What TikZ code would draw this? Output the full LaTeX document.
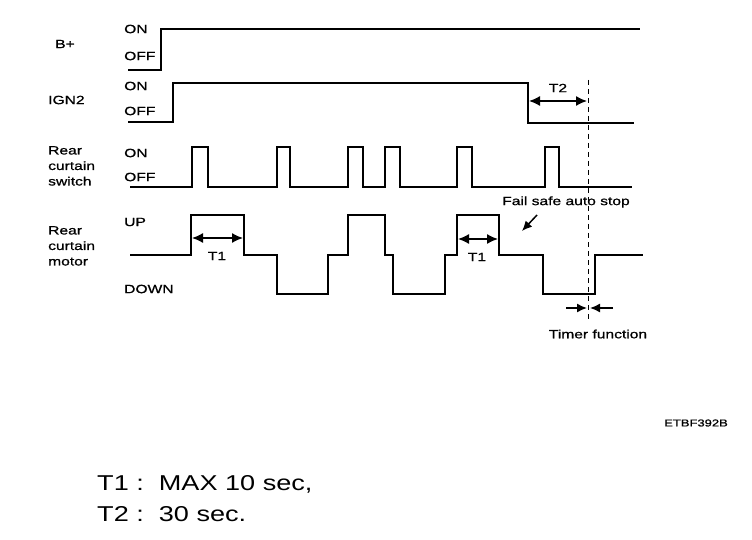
\documentclass[tikz,border=0pt]{standalone}
\usepackage{fontspec}
\setmainfont{Liberation Sans}[FakeStretch=1.26]
\newfontfamily\lblfont{Liberation Sans}[FakeStretch=1.3,FakeBold=0.9]
\usetikzlibrary{arrows.meta}
\begin{document}
\begin{tikzpicture}[x=1pt,y=-1pt,
  sig/.style={line width=2pt,line join=miter},
  lbl/.style={font=\lblfont\fontsize{12}{14}\selectfont,inner sep=0pt,anchor=west},
  stack/.style={lbl,align=left,anchor=north west,font=\lblfont\fontsize{12}{15.5}\selectfont},
  dim/.style={line width=1.5pt,{Latex[length=11pt,width=10pt]}-{Latex[length=11pt,width=10pt]}},
  onearrow/.style={line width=1.5pt,-{Latex[length=10pt,width=9pt]}},
  note/.style={font=\fontsize{21.5}{26}\selectfont,inner sep=0pt,anchor=west}]
\useasboundingbox (0,0) rectangle (752,540);
% left labels
\node[lbl] (bp) at (55,44) {B+};
\node[lbl] (ign) at (48,100) {IGN2};
\node[stack] (rcs) at (48,146) {Rear\\curtain\\switch};
\node[stack] (rcm) at (48,226) {Rear\\curtain\\motor};
% level labels
\node[lbl] (on1) at (124,29) {ON};
\node[lbl] (off1) at (124,56) {OFF};
\node[lbl] (on2) at (124,86) {ON};
\node[lbl] (off2) at (124,111) {OFF};
\node[lbl] (on3) at (124,153) {ON};
\node[lbl] (off3) at (124,177) {OFF};
\node[lbl] (up) at (124,222) {UP};
\node[lbl] (down) at (124,289) {DOWN};
% waveforms
\draw[sig] (128,70) -- (161,70) -- (161,29) -- (640,29);
\draw[sig] (128,122) -- (173,122) -- (173,83) -- (528,83) -- (528,123) -- (634,123);
\draw[sig] (130,187) -- (192,187) -- (192,147) -- (208,147) -- (208,187)
  -- (277,187) -- (277,147) -- (290,147) -- (290,187)
  -- (348,187) -- (348,147) -- (363,147) -- (363,187)
  -- (385,187) -- (385,147) -- (400,147) -- (400,187)
  -- (457,187) -- (457,147) -- (472,147) -- (472,187)
  -- (545,187) -- (545,147) -- (559,147) -- (559,187) -- (632,187);
\draw[sig] (130,255) -- (191,255) -- (191,215) -- (244,215) -- (244,255)
  -- (277,255) -- (277,294) -- (328,294) -- (328,255) -- (348,255)
  -- (348,215) -- (385,215) -- (385,255) -- (393,255) -- (393,294)
  -- (445,294) -- (445,255) -- (457,255) -- (457,215) -- (499,215)
  -- (499,255) -- (543,255) -- (543,294) -- (595,294) -- (595,255) -- (643,255);
% dashed marker
\coordinate (dtop) at (588,80);
\coordinate (dbot) at (588,320);
\draw[line width=0.8pt,dash pattern=on 5pt off 4pt] (dtop) -- (dbot);
% T2
\coordinate (t2a) at (529,101);
\coordinate (t2b) at (587,101);
\draw[dim] (t2a) -- (t2b);
\node[lbl,anchor=center] (t2) at (558,88) {T2};
% T1
\coordinate (t1a) at (192,238);
\coordinate (t1b) at (243,238);
\draw[dim] (t1a) -- (t1b);
\node[lbl,anchor=center] (t1) at (217,256) {T1};
\coordinate (t1c) at (458,239);
\coordinate (t1d) at (498,239);
\draw[dim] (t1c) -- (t1d);
\node[lbl,anchor=center] (t1x) at (477,257) {T1};
% fail safe
\node[lbl,anchor=center] (fs) at (566,202) {Fail safe auto stop};
\coordinate (fsa) at (537,215);
\coordinate (fsb) at (522,231);
\draw[onearrow] (fsa) -- (fsb);
% timer
\coordinate (ta) at (566,308);
\coordinate (tb) at (587,308);
\coordinate (tc) at (613,308);
\coordinate (td) at (590,308);
\draw[onearrow] (ta) -- (tb);
\draw[onearrow] (tc) -- (td);
\node[lbl,anchor=center] (tf) at (598,334) {Timer function};
% code
\node[lbl,anchor=east,font=\lblfont\fontsize{10}{12}\selectfont] (code) at (728,423) {ETBF392B};
% notes
\node[note] (n1) at (97,484) {T1 :\ \ MAX 10 sec,};
\node[note] (n2) at (97,514) {T2 :\ \ 30 sec.};
\end{tikzpicture}
\end{document}
